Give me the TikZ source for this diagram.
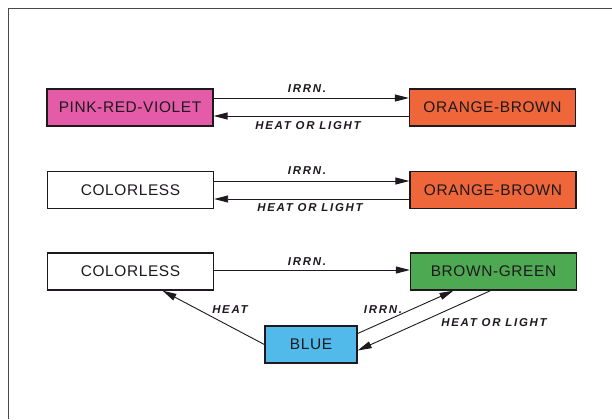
\documentclass[tikz,border=0pt]{standalone}
\usepackage{fontspec}
\setmainfont{Liberation Sans}
\usetikzlibrary{arrows.meta}
\definecolor{cpink}{RGB}{228,92,168}
\definecolor{corange}{RGB}{238,102,58}
\definecolor{cgreen}{RGB}{78,170,82}
\definecolor{cblue}{RGB}{82,186,234}
\definecolor{ink}{RGB}{30,25,30}
\tikzset{
  box/.style={draw=ink, line width=1.3bp, rectangle, minimum width=166bp, minimum height=37bp, inner sep=0pt, font=\fontsize{15.5}{17}\selectfont\addfontfeatures{LetterSpace=4}, text=ink},
  arr/.style={draw=ink, line width=0.9bp, -{Triangle[length=14bp,width=7bp]}},
  lab/.style={font=\fontsize{11.5}{13}\selectfont\bfseries\itshape\addfontfeatures{LetterSpace=15}, text=ink, inner sep=0pt}
}
\begin{document}
\begin{tikzpicture}[x=1bp,y=-1bp]
\useasboundingbox (0,0) rectangle (612,419);
\fill[white] (0,0) rectangle (612,419);
\draw[ink!80, line width=1.4bp] (8.5,419) -- (8.5,8.5) -- (612,8.5);

\node[box, fill=cpink] (p1) at (130,107.5) {PINK-RED-VIOLET};
\node[box, fill=corange] (o1) at (492.5,107.5) {ORANGE-BROWN};
\node[box, fill=white] (c1) at (130.5,190) {COLORLESS};
\node[box, fill=corange] (o2) at (493,190) {ORANGE-BROWN};
\node[box, fill=white] (c2) at (130.5,271.5) {COLORLESS};
\node[box, fill=cgreen] (g) at (493.5,271.5) {BROWN-GREEN};
\node[box, fill=cblue, minimum width=92bp] (b) at (311,344.5) {BLUE};

\draw[arr] ([yshift=9.5bp]p1.east) -- ([yshift=9.5bp]o1.west);
\draw[arr] ([yshift=-8.5bp]o1.west) -- ([yshift=-8.5bp]p1.east);
\draw[arr] ([yshift=9bp]c1.east) -- ([yshift=9bp]o2.west);
\draw[arr] ([yshift=-9bp]o2.west) -- ([yshift=-9bp]c1.east);
\draw[arr] ([yshift=1.5bp]c2.east) -- ([yshift=1.5bp]g.west);
\draw[arr] (b.west) -- ([xshift=32bp]c2.south);
\draw[arr] ([yshift=11bp]b.east) -- ([xshift=-40bp]g.south);
\draw[arr] ([xshift=-3bp]g.south) -- ([yshift=-6bp]b.east);

\node[lab] (l1) at (307,89) {IRRN.};
\node[lab] (l2) at (308,126) {HEAT OR LIGHT};
\node[lab] (l3) at (307,171) {IRRN.};
\node[lab] (l4) at (310,208) {HEAT OR LIGHT};
\node[lab] (l5) at (307,262) {IRRN.};
\node[lab] (l6) at (230,310) {HEAT};
\node[lab] (l7) at (383,310) {IRRN.};
\node[lab] (l8) at (494,323) {HEAT OR LIGHT};
\end{tikzpicture}
\end{document}
